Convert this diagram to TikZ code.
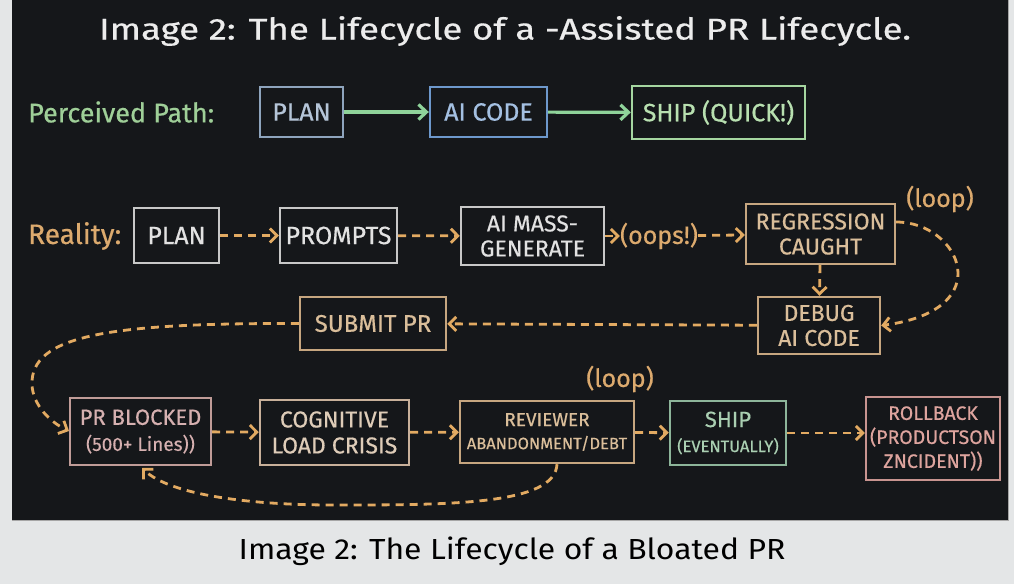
\documentclass[tikz,border=0pt]{standalone}
\usepackage{fontspec}
\usepackage{graphicx}
\setmainfont{Fira Sans}
\newfontfamily\medfont{Fira Sans}[FakeBold=0.5]
\usetikzlibrary{arrows.meta}
\definecolor{outerbg}{HTML}{E4E6E7}
\definecolor{panelbg}{HTML}{15171A}
\definecolor{titlec}{HTML}{ECECEC}
\definecolor{greenT}{HTML}{9FCF98}
\definecolor{greenA}{HTML}{8FD39A}
\definecolor{planB}{HTML}{8EA4BD}
\definecolor{planT}{HTML}{B5C5D8}
\definecolor{aiB}{HTML}{6D98CC}
\definecolor{aiT}{HTML}{A4C0E2}
\definecolor{shipB}{HTML}{A5D6A0}
\definecolor{shipT}{HTML}{B8E0B0}
\definecolor{orangeT}{HTML}{DCAA6E}
\definecolor{orangeA}{HTML}{E2AA62}
\definecolor{whiteB}{HTML}{C8C8C8}
\definecolor{whiteT}{HTML}{E2E2E2}
\definecolor{tanB}{HTML}{C6A680}
\definecolor{tanT}{HTML}{DABE9A}
\definecolor{pinkB}{HTML}{C09C98}
\definecolor{pinkT}{HTML}{D6B0B0}
\definecolor{cogB}{HTML}{C8B09A}
\definecolor{cogT}{HTML}{DECCB8}
\definecolor{evB}{HTML}{8DB59A}
\definecolor{evT}{HTML}{AACFB2}
\definecolor{rollB}{HTML}{C89490}
\definecolor{rollT}{HTML}{DEA49E}
\newcommand\fs[2]{\fontsize{#1}{#2}\selectfont}
\tikzset{
  box/.style={draw, line width=2.4pt, fill=panelbg, inner sep=0pt, align=center,
    font=\medfont\fs{25}{28}},
  garrow/.style={draw=greenA, line width=3.2pt, -{Straight Barb[length=8pt,width=15pt,line width=3.2pt]}},
  oarrow/.style={draw=orangeA, line width=2.8pt, dash pattern=on 8pt off 6pt,
    -{Straight Barb[length=7pt,width=14pt,line width=2.8pt]}},
  lbl/.style={inner sep=0pt, anchor=west},
}
\begin{document}
\begin{tikzpicture}[x=1pt,y=-1pt]
\useasboundingbox (0,0) rectangle (1014,584);
\fill[outerbg] (0,0) rectangle (1014,584);
\fill[panelbg] (12,0) rectangle (1008,520);
\draw[gray!70, line width=1pt] (12,520) -- (1008,520) -- (1008,0);

% title and caption
\node[text=titlec, font=\medfont\fs{30}{33}] (title) at (505,31) {\scalebox{1.22}[1]{Image 2: The Lifecycle of a -Assisted PR Lifecycle.}};
\node[text=black, font=\fs{29}{32}] (caption) at (512,551) {\scalebox{1.1}[1]{Image 2: The Lifecycle of a Bloated PR}};

% perceived path
\node[lbl, text=greenT, font=\medfont\fs{27}{30}] (perc) at (28,112) {Perceived Path:};
\node[box, draw=planB, text=planT, minimum width=83pt, minimum height=50pt] (pplan) at (301.5,112) {PLAN};
\node[box, draw=aiB, text=aiT, minimum width=117pt, minimum height=50pt] (paicode) at (488.5,112) {AI CODE};
\node[box, draw=shipB, text=shipT, minimum width=173pt, minimum height=53pt] (pship) at (718.5,112.5) {SHIP (QUICK!)};
\draw[garrow] (pplan) -- (paicode);
\draw[garrow] (paicode) -- (pship);

% reality row
\node[lbl, text=orangeT, font=\medfont\fs{28}{30}] (real) at (28,236) {Reality:};
\node[box, draw=whiteB, text=whiteT, minimum width=85pt, minimum height=55pt] (rplan) at (176.5,235.5) {PLAN};
\node[box, draw=whiteB, text=whiteT, minimum width=117pt, minimum height=55pt] (rprompts) at (338.5,235.5) {PROMPTS};
\node[box, draw=whiteB, text=whiteT, minimum width=143pt, minimum height=58pt, font=\medfont\fs{23}{25}] (rmass) at (532.5,236) {AI MASS-\\GENERATE};
\node[inner sep=0pt, text=orangeT, font=\medfont\fs{25}{27}] (oops) at (659,236) {(oops!)};
\node[box, draw=tanB, text=tanT, minimum width=149pt, minimum height=60pt, font=\medfont\fs{23}{25}] (regr) at (820.5,234) {REGRESSION\\CAUGHT};
\node[inner sep=0pt, text=orangeT, font=\medfont\fs{25}{27}] (loopa) at (940,199) {(loop)};
\node[box, draw=tanB, text=tanT, minimum width=122pt, minimum height=57pt, font=\medfont\fs{23}{25}] (debug) at (819,325.5) {DEBUG\\AI CODE};
\node[box, draw=tanB, text=tanT, minimum width=146pt, minimum height=53pt, font=\medfont\fs{24}{26}] (submit) at (373,323.5) {SUBMIT PR};

\draw[oarrow] (rplan) -- (rprompts);
\draw[oarrow] (rprompts) -- (rmass);
\draw[oarrow] (rmass) -- (oops);
\draw[oarrow] (oops) -- (regr);
\draw[oarrow] (regr) -- (debug);
\draw[oarrow] (regr.east |- 0,222) .. controls (960,222) and (1000,310) .. (debug.east);
\draw[oarrow] (debug) -- (submit);
\coordinate (bend) at (32,385);
\draw[oarrow] (submit.west) .. controls (110,323) and (30,335) .. (bend) .. controls (33,405) and (50,422) .. (69,431);

% bottom row
\node[box, draw=pinkB, text=pinkT, minimum width=141pt, minimum height=67pt, font=\medfont\fs{22}{26}] (blocked) at (140.5,431.5) {PR BLOCKED\\{\fs{19}{22}(500+ Lines))}};
\node[box, draw=cogB, text=cogT, minimum width=149pt, minimum height=65pt, font=\medfont\fs{23}{26}] (cogn) at (334.5,432.5) {COGNITIVE\\LOAD CRISIS};
\node[box, draw=tanB, text=tanT, minimum width=174pt, minimum height=62pt, font=\medfont\fs{19}{23}] (review) at (547,432) {REVIEWER\\{\fs{16.5}{19}ABANDONMENT/DEBT}};
\node[inner sep=0pt, text=orangeT, font=\medfont\fs{25}{27}] (loopb) at (620,379) {(loop)};
\node[box, draw=evB, text=evT, minimum width=116pt, minimum height=64pt, font=\medfont\fs{22}{25}] (shipev) at (728,433) {SHIP\\{\fs{16.5}{19}(EVENTUALLY)}};
\node[box, draw=rollB, text=rollT, minimum width=134pt, minimum height=83pt, font=\medfont\fs{19.5}{24}] (rollback) at (933,438.5) {ROLLBACK\\(PRODUCTSON\\ZNCIDENT))};

\draw[oarrow] (blocked) -- (cogn);
\draw[oarrow] (cogn) -- (review);
\draw[oarrow] (review) -- (shipev);
\draw[oarrow] (shipev.east) -- (shipev.east -| rollback.west);
\coordinate (lowmid) at (333,505);
\draw[oarrow] (review.south -| 557,0) .. controls (555,505) and (450,505) .. (lowmid) .. controls (250,505) and (170,495) .. (142,468);
\end{tikzpicture}
\end{document}
